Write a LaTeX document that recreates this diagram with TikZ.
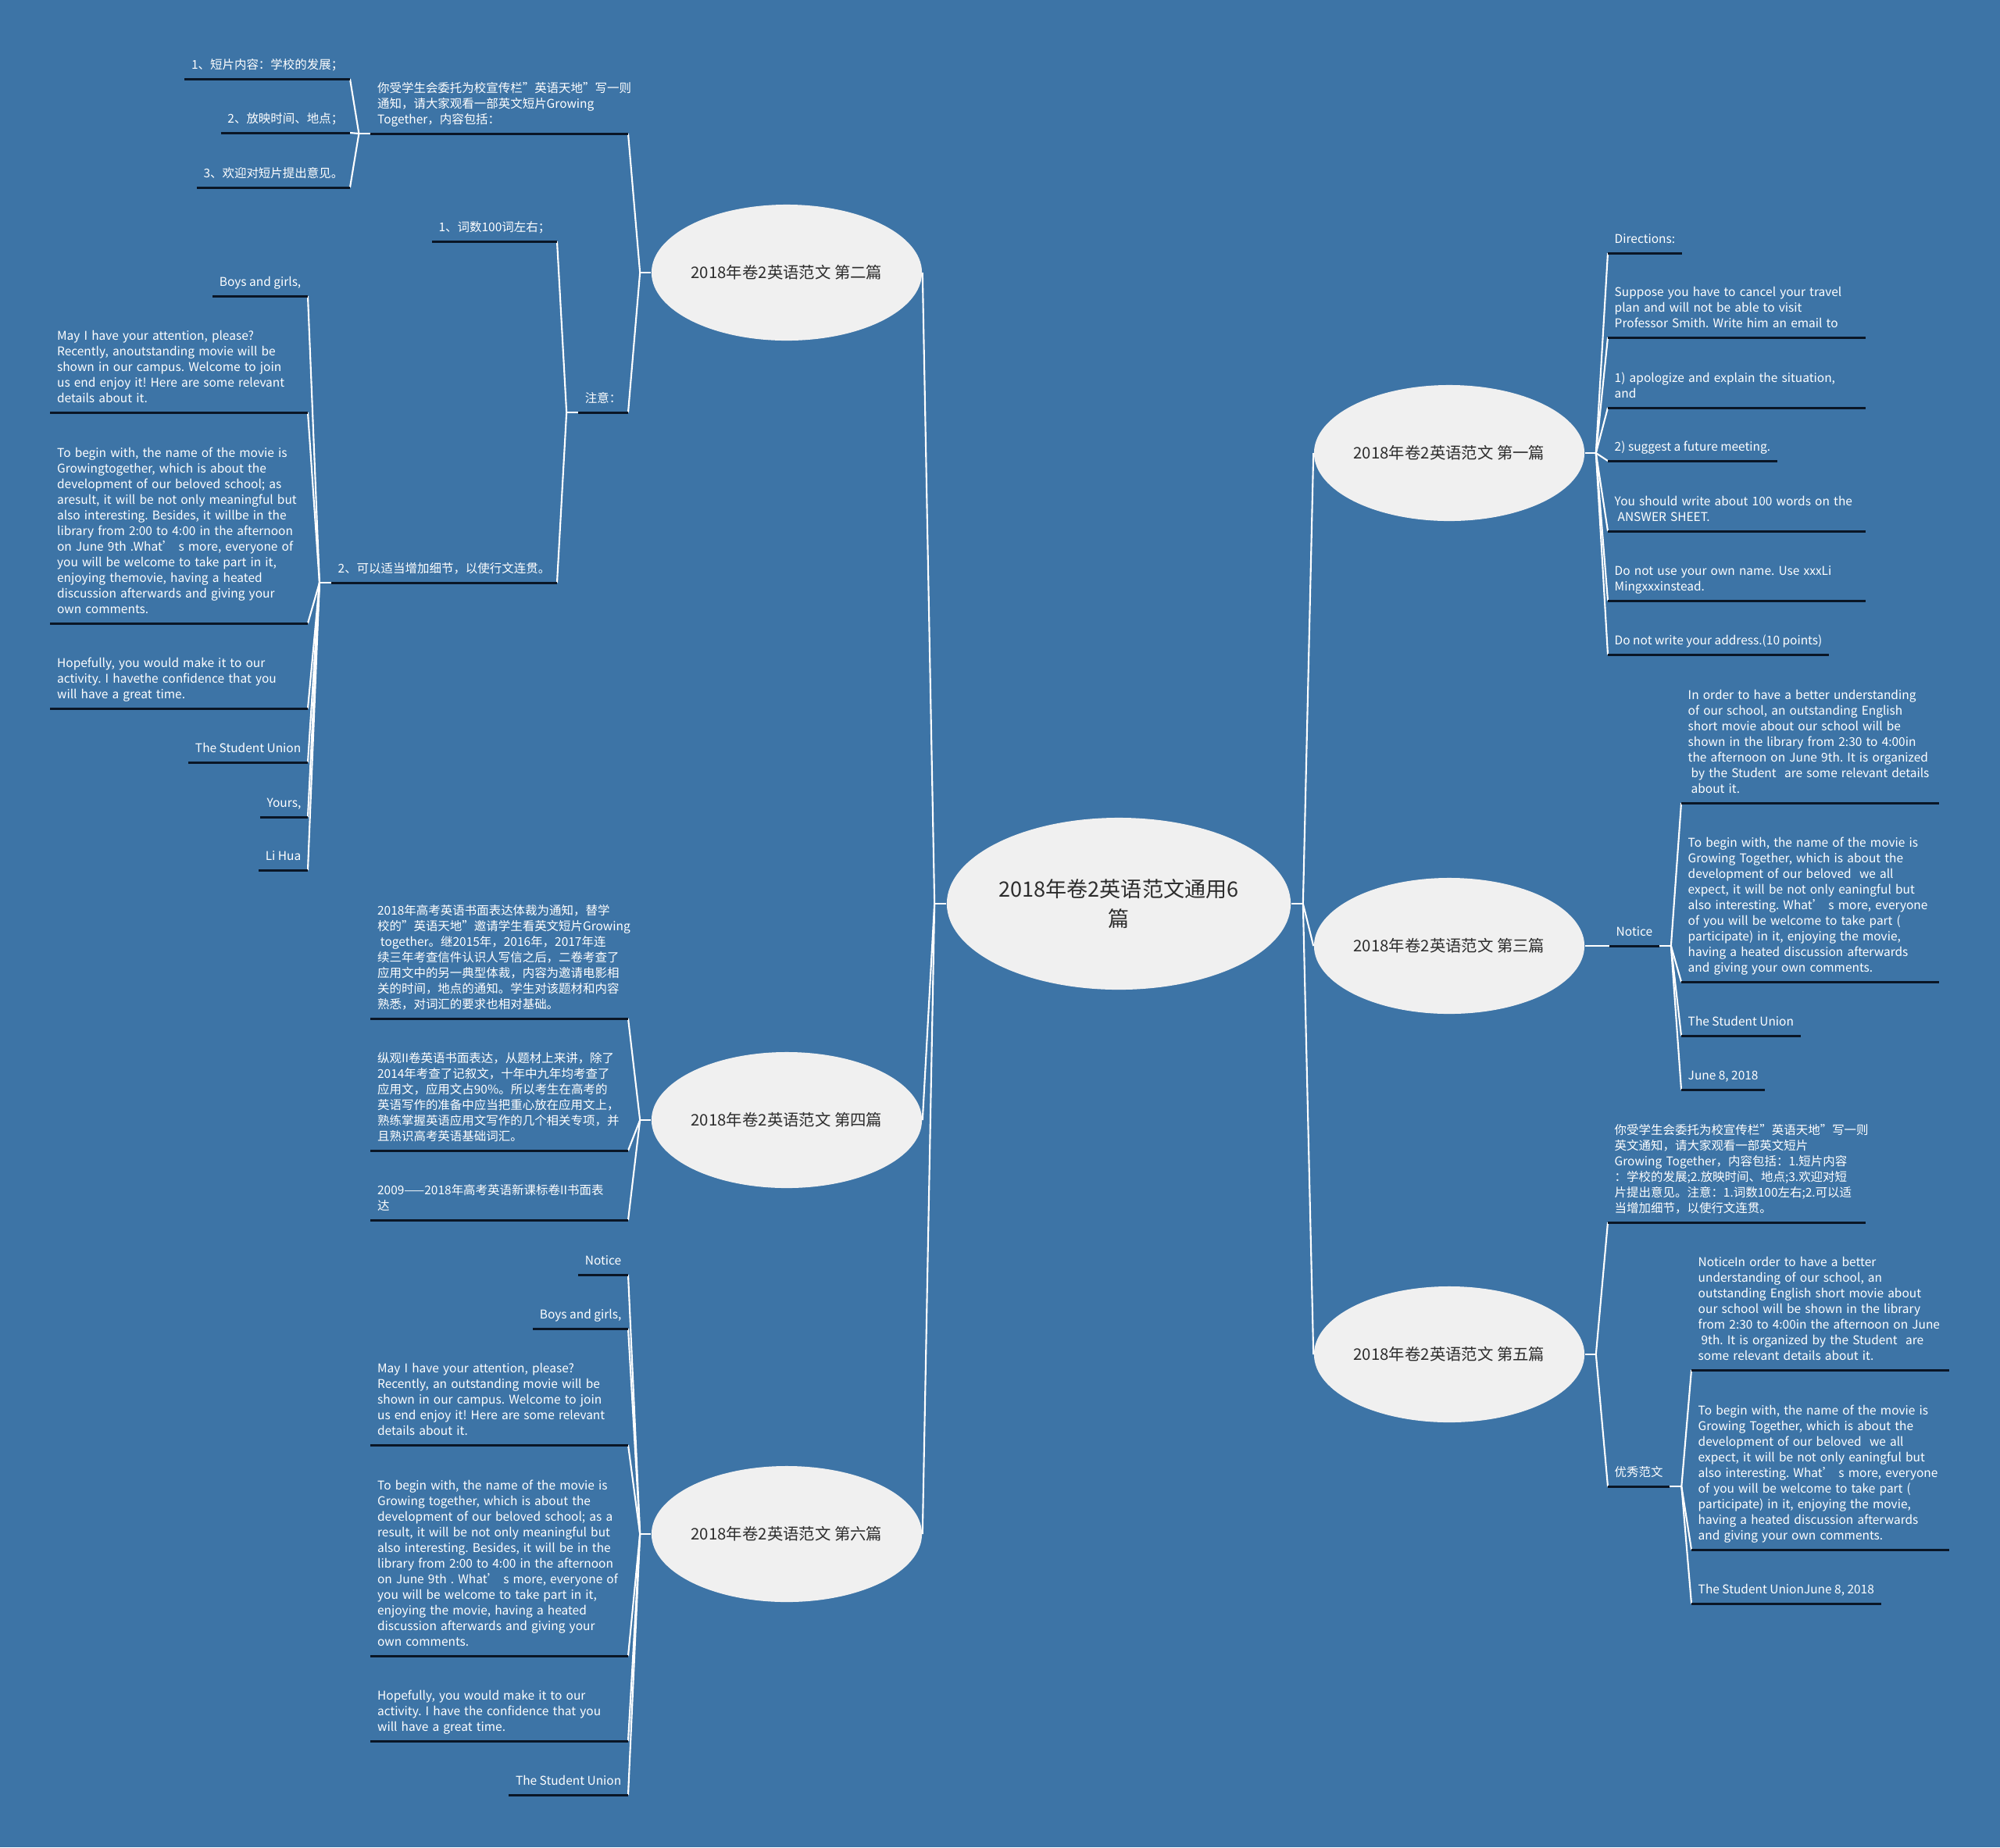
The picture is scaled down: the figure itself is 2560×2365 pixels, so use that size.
\documentclass[tikz,border=0pt]{standalone}
\usepackage{fontspec}
\setmainfont{Noto Sans CJK SC}
\usetikzlibrary{shapes.geometric}
\definecolor{mapblue}{RGB}{61,116,166}
\definecolor{bubble}{RGB}{240,240,240}
\definecolor{bubbletext}{RGB}{45,45,45}
\definecolor{rulenavy}{RGB}{10,22,38}
\frenchspacing

\begin{document}
\begin{tikzpicture}[x=0.01cm, y=-0.01cm,
    root/.style={ellipse, fill=bubble, text=bubbletext, minimum width=4.4cm, minimum height=2.2cm, inner sep=0pt, align=center, font=\fontsize{7.7}{11}\selectfont},
    topic/.style={ellipse, fill=bubble, text=bubbletext, minimum width=3.46cm, minimum height=1.74cm, inner sep=0pt, font=\fontsize{5.8}{7}\selectfont},
    leaf/.style={text=white, inner xsep=0.08cm, inner ysep=0.055cm, align=left, font=\fontsize{4.4}{5.7}\selectfont, execute at end node=\strut},
    para/.style={leaf, text width=3.12cm},
    link/.style={white, line width=0.6pt},
    uline/.style={rulenavy, line width=0.85pt}]

    \fill[mapblue] (0,0) rectangle (2560,2365);
    \useasboundingbox (0,0) rectangle (2560,2365);

    \node[root] (root) at (1432,1157) {2018年卷2英语范文通用6\\篇};
    \node[topic] (t1) at (1855,580) {2018年卷2英语范文 第一篇};
    \node[topic] (t2) at (1007,349) {2018年卷2英语范文 第二篇};
    \node[topic] (t3) at (1855,1211) {2018年卷2英语范文 第三篇};
    \node[topic] (t4) at (1007,1434) {2018年卷2英语范文 第四篇};
    \node[topic] (t5) at (1855,1734) {2018年卷2英语范文 第五篇};
    \node[topic] (t6) at (1007,1964) {2018年卷2英语范文 第六篇};

    % 第二篇
    \node[para, anchor=south east] (task) at (804,171) {你受学生会委托为校宣传栏"英语天地"写一则\\通知，请大家观看一部英文短片Growing\\Together，内容包括：};
    \node[leaf, anchor=south east] (task1) at (448,101) {1、短片内容：学校的发展；};
    \node[leaf, anchor=south east] (task2) at (448,170) {2、放映时间、地点；};
    \node[leaf, anchor=south east] (task3) at (448,240) {3、欢迎对短片提出意见。};
    \node[leaf, anchor=south east] (note) at (804,528) {注意：};
    \node[leaf, anchor=south east] (note1) at (713,309) {1、词数100词左右；};
    \node[leaf, anchor=south east] (note2) at (713,746) {2、可以适当增加细节，以使行文连贯。};
    \node[leaf, anchor=south east] (l1) at (394,379) {Boys and girls,};
    \node[para, anchor=south east] (l2) at (394,528) {May I have your attention, please?\\Recently, anoutstanding movie will be\\shown in our campus. Welcome to join\\us end enjoy it! Here are some relevant\\details about it.};
    \node[para, anchor=south east] (l3) at (394,798) {To begin with, the name of the movie is\\Growingtogether, which is about the\\development of our beloved school; as\\aresult, it will be not only meaningful but\\also interesting. Besides, it willbe in the\\library from 2:00 to 4:00 in the afternoon\\on June 9th .What’ s more, everyone of\\you will be welcome to take part in it,\\enjoying themovie, having a heated\\discussion afterwards and giving your\\own comments.};
    \node[para, anchor=south east] (l4) at (394,907) {Hopefully, you would make it to our\\activity. I havethe confidence that you\\will have a great time.};
    \node[leaf, anchor=south east] (l5) at (394,976) {The Student Union};
    \node[leaf, anchor=south east] (l6) at (394,1046) {Yours,};
    \node[leaf, anchor=south east] (l7) at (394,1114) {Li Hua};

    % 第四篇
    \node[para, anchor=south east] (f1) at (804,1304) {2018年高考英语书面表达体裁为通知，替学\\校的"英语天地"邀请学生看英文短片Growing\\\hspace*{0.25em}together。继2015年，2016年，2017年连\\续三年考查信件认识人写信之后，二卷考查了\\应用文中的另一典型体裁，内容为邀请电影相\\关的时间，地点的通知。学生对该题材和内容\\熟悉，对词汇的要求也相对基础。};
    \node[para, anchor=south east] (f2) at (804,1473) {纵观II卷英语书面表达，从题材上来讲，除了\\2014年考查了记叙文，十年中九年均考查了\\应用文，应用文占90\%。所以考生在高考的\\英语写作的准备中应当把重心放在应用文上，\\熟练掌握英语应用文写作的几个相关专项，并\\且熟识高考英语基础词汇。};
    \node[para, anchor=south east] (f3) at (804,1562) {2009——2018年高考英语新课标卷II书面表\\达};

    % 第六篇
    \node[leaf, anchor=south east] (s1) at (804,1632) {Notice};
    \node[leaf, anchor=south east] (s2) at (804,1701) {Boys and girls,};
    \node[para, anchor=south east] (s3) at (804,1850) {May I have your attention, please?\\Recently, an outstanding movie will be\\shown in our campus. Welcome to join\\us end enjoy it! Here are some relevant\\details about it.};
    \node[para, anchor=south east] (s4) at (804,2120) {To begin with, the name of the movie is\\Growing together, which is about the\\development of our beloved school; as a\\result, it will be not only meaningful but\\also interesting. Besides, it will be in the\\library from 2:00 to 4:00 in the afternoon\\on June 9th . What’ s more, everyone of\\you will be welcome to take part in it,\\enjoying the movie, having a heated\\discussion afterwards and giving your\\own comments.};
    \node[para, anchor=south east] (s5) at (804,2229) {Hopefully, you would make it to our\\activity. I have the confidence that you\\will have a great time.};
    \node[leaf, anchor=south east] (s6) at (804,2298) {The Student Union};

    % 第一篇
    \node[leaf, anchor=south west] (a1) at (2058,324) {Directions:};
    \node[para, anchor=south west] (a2) at (2058,432) {Suppose you have to cancel your travel\\plan and will not be able to visit\\Professor Smith. Write him an email to};
    \node[para, anchor=south west] (a3) at (2058,522) {1) apologize and explain the situation,\\and};
    \node[leaf, anchor=south west] (a4) at (2058,590) {2) suggest a future meeting.};
    \node[para, anchor=south west] (a5) at (2058,680) {You should write about 100 words on the\\\hspace*{0.25em}ANSWER SHEET.};
    \node[para, anchor=south west] (a6) at (2058,769) {Do not use your own name. Use xxxLi\\Mingxxxinstead.};
    \node[leaf, anchor=south west] (a7) at (2058,838) {Do not write your address.(10 points)};

    % 第三篇
    \node[leaf, anchor=south west] (nt) at (2060,1211) {Notice};
    \node[para, anchor=south west] (c1) at (2152,1028) {In order to have a better understanding\\of our school, an outstanding English\\short movie about our school will be\\shown in the library from 2:30 to 4:00in\\the afternoon on June 9th. It is organized\\\hspace*{0.25em}by the Student\ \ are some relevant details\\\hspace*{0.25em}about it.};
    \node[para, anchor=south west] (c2) at (2152,1257) {To begin with, the name of the movie is\\Growing Together, which is about the\\development of our beloved\ \ we all\\expect, it will be not only eaningful but\\also interesting. What’ s more, everyone\\of you will be welcome to take part (\\participate) in it, enjoying the movie,\\having a heated discussion afterwards\\and giving your own comments.};
    \node[leaf, anchor=south west] (c3) at (2152,1326) {The Student Union};
    \node[leaf, anchor=south west] (c4) at (2152,1395) {June 8, 2018};

    % 第五篇
    \node[para, anchor=south west] (e1) at (2058,1565) {你受学生会委托为校宣传栏"英语天地"写一则\\英文通知，请大家观看一部英文短片\\Growing Together，内容包括：1.短片内容\\：学校的发展;2.放映时间、地点;3.欢迎对短\\片提出意见。注意：1.词数100左右;2.可以适\\当增加细节，以使行文连贯。};
    \node[leaf, anchor=south west] (e2) at (2058,1903) {优秀范文};
    \node[para, anchor=south west] (g1) at (2165,1754) {NoticeIn order to have a better\\understanding of our school, an\\outstanding English short movie about\\our school will be shown in the library\\from 2:30 to 4:00in the afternoon on June\\\hspace*{0.25em}9th. It is organized by the Student\ \ are\\some relevant details about it.};
    \node[para, anchor=south west] (g2) at (2165,1984) {To begin with, the name of the movie is\\Growing Together, which is about the\\development of our beloved\ \ we all\\expect, it will be not only eaningful but\\also interesting. What’ s more, everyone\\of you will be welcome to take part (\\participate) in it, enjoying the movie,\\having a heated discussion afterwards\\and giving your own comments.};
    \node[leaf, anchor=south west] (g3) at (2165,2053) {The Student UnionJune 8, 2018};

    % connectors
    \coordinate (jl) at ([xshift=-0.15cm]root.west);
    \coordinate (jr) at ([xshift=0.15cm]root.east);
    \draw[link] (root.west) -- (jl);
    \draw[link] (root.east) -- (jr);
    \foreach \t in {t2,t4,t6} \draw[link] (jl) -- (\t.east);
    \foreach \t in {t1,t3,t5} \draw[link] (jr) -- (\t.west);

    \coordinate (j2) at ([xshift=-0.14cm]t2.west);
    \draw[link] (t2.west) -- (j2);
    \foreach \c in {task,note} \draw[link] (j2) -- (\c.south east);
    \coordinate (jtask) at ([xshift=-0.15cm]task.south west);
    \draw[link] (task.south west) -- (jtask);
    \foreach \c in {task1,task2,task3} \draw[link] (jtask) -- (\c.south east);
    \coordinate (jnote) at ([xshift=-0.15cm]note.south west);
    \draw[link] (note.south west) -- (jnote);
    \foreach \c in {note1,note2} \draw[link] (jnote) -- (\c.south east);
    \coordinate (jnote2) at ([xshift=-0.15cm]note2.south west);
    \draw[link] (note2.south west) -- (jnote2);
    \foreach \c in {l1,l2,l3,l4,l5,l6,l7} \draw[link] (jnote2) -- (\c.south east);

    \coordinate (j4) at ([xshift=-0.14cm]t4.west);
    \draw[link] (t4.west) -- (j4);
    \foreach \c in {f1,f2,f3} \draw[link] (j4) -- (\c.south east);

    \coordinate (j6) at ([xshift=-0.14cm]t6.west);
    \draw[link] (t6.west) -- (j6);
    \foreach \c in {s1,s2,s3,s4,s5,s6} \draw[link] (j6) -- (\c.south east);

    \coordinate (j1) at ([xshift=0.14cm]t1.east);
    \draw[link] (t1.east) -- (j1);
    \foreach \c in {a1,a2,a3,a4,a5,a6,a7} \draw[link] (j1) -- (\c.south west);

    \coordinate (j3) at ([xshift=0.14cm]t3.east);
    \draw[link] (t3.east) -- (j3) -- (nt.south west);
    \coordinate (jnt) at ([xshift=0.15cm]nt.south east);
    \draw[link] (nt.south east) -- (jnt);
    \foreach \c in {c1,c2,c3,c4} \draw[link] (jnt) -- (\c.south west);

    \coordinate (j5) at ([xshift=0.14cm]t5.east);
    \draw[link] (t5.east) -- (j5);
    \foreach \c in {e1,e2} \draw[link] (j5) -- (\c.south west);
    \coordinate (je2) at ([xshift=0.15cm]e2.south east);
    \draw[link] (e2.south east) -- (je2);
    \foreach \c in {g1,g2,g3} \draw[link] (je2) -- (\c.south west);

    \foreach \n in {task,task1,task2,task3,note,note1,note2,l1,l2,l3,l4,l5,l6,l7,f1,f2,f3,s1,s2,s3,s4,s5,s6,a1,a2,a3,a4,a5,a6,a7,nt,c1,c2,c3,c4,e1,e2,g1,g2,g3}
        \draw[uline] (\n.south west) -- (\n.south east);
\end{tikzpicture}
\end{document}
